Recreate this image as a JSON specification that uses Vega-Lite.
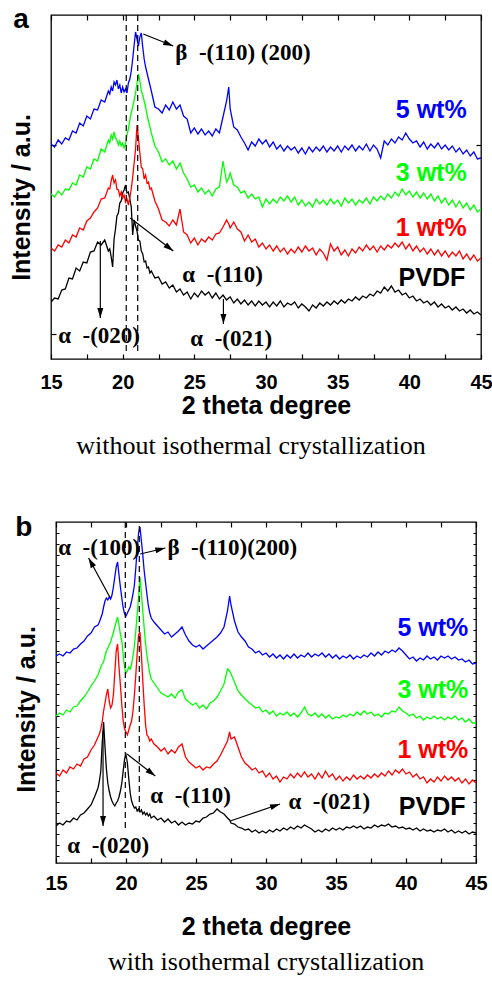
{
"$schema": "https://vega.github.io/schema/vega-lite/v6.json",
"padding": {"left": 8, "top": 5, "right": 0, "bottom": 0},
"background": "white",
"datasets": {
"a": [
{"t":15,"PVDF":57,"w1":111,"w3":165,"w5":215},
{"t":15.25,"PVDF":61,"w1":108,"w3":162,"w5":212},
{"t":15.5,"PVDF":60,"w1":114,"w3":168,"w5":219},
{"t":15.75,"PVDF":69,"w1":112,"w3":164,"w5":215},
{"t":16,"PVDF":70,"w1":119,"w3":170,"w5":221},
{"t":16.25,"PVDF":81,"w1":116,"w3":169,"w5":219},
{"t":16.5,"PVDF":80,"w1":124,"w3":176,"w5":228},
{"t":16.75,"PVDF":91,"w1":122,"w3":174,"w5":226},
{"t":17,"PVDF":88,"w1":131,"w3":184,"w5":236},
{"t":17.25,"PVDF":97,"w1":129,"w3":182,"w5":233},
{"t":17.5,"PVDF":96,"w1":138,"w3":192,"w5":243},
{"t":17.75,"PVDF":107,"w1":141,"w3":190,"w5":240},
{"t":18,"PVDF":108,"w1":147,"w3":200,"w5":250},
{"t":18.25,"PVDF":117,"w1":151,"w3":198,"w5":249},
{"t":18.5,"PVDF":114,"w1":160,"w3":210,"w5":259},
{"t":18.75,"PVDF":119,"w1":161,"w3":207,"w5":257},
{"t":19,"PVDF":108,"w1":171,"w3":219,"w5":268},
{"t":19.1,"PVDF":110,"w1":170,"w3":216,"w5":265},
{"t":19.2,"PVDF":102,"w1":178,"w3":224,"w5":272},
{"t":19.3,"PVDF":92,"w1":184,"w3":220,"w5":268},
{"t":19.4,"PVDF":120,"w1":176,"w3":227,"w5":277},
{"t":19.5,"PVDF":130,"w1":179,"w3":221,"w5":274},
{"t":19.6,"PVDF":143,"w1":170,"w3":219,"w5":279},
{"t":19.7,"PVDF":146,"w1":169,"w3":214,"w5":270},
{"t":19.8,"PVDF":156,"w1":163,"w3":218,"w5":274},
{"t":19.9,"PVDF":158,"w1":167,"w3":213,"w5":266},
{"t":20,"PVDF":166,"w1":161,"w3":216,"w5":272},
{"t":20.1,"PVDF":169,"w1":164,"w3":211,"w5":267},
{"t":20.2,"PVDF":174,"w1":157,"w3":215,"w5":270},
{"t":20.3,"PVDF":166,"w1":160,"w3":224,"w5":266},
{"t":20.4,"PVDF":167,"w1":154,"w3":230,"w5":276},
{"t":20.5,"PVDF":160,"w1":161,"w3":239,"w5":280},
{"t":20.6,"PVDF":152,"w1":170,"w3":246,"w5":288},
{"t":20.7,"PVDF":124,"w1":182,"w3":252,"w5":300},
{"t":20.8,"PVDF":139,"w1":196,"w3":259,"w5":314},
{"t":20.9,"PVDF":133,"w1":210,"w3":266,"w5":327},
{"t":21,"PVDF":128,"w1":234,"w3":276,"w5":320},
{"t":21.1,"PVDF":119,"w1":221,"w3":285,"w5":313},
{"t":21.2,"PVDF":118,"w1":206,"w3":278,"w5":322},
{"t":21.3,"PVDF":108,"w1":192,"w3":268,"w5":326},
{"t":21.4,"PVDF":105,"w1":190,"w3":264,"w5":312},
{"t":21.5,"PVDF":97,"w1":180,"w3":258,"w5":300},
{"t":21.6,"PVDF":98,"w1":184,"w3":252,"w5":292},
{"t":21.7,"PVDF":91,"w1":176,"w3":244,"w5":286},
{"t":21.8,"PVDF":92,"w1":177,"w3":238,"w5":280},
{"t":21.9,"PVDF":86,"w1":170,"w3":232,"w5":274},
{"t":22,"PVDF":88,"w1":171,"w3":226,"w5":268},
{"t":22.25,"PVDF":81,"w1":158,"w3":213,"w5":252},
{"t":22.5,"PVDF":82,"w1":150,"w3":207,"w5":250},
{"t":22.75,"PVDF":75,"w1":139,"w3":197,"w5":246},
{"t":23,"PVDF":77,"w1":137,"w3":200,"w5":254},
{"t":23.25,"PVDF":71,"w1":133,"w3":194,"w5":249},
{"t":23.5,"PVDF":74,"w1":139,"w3":198,"w5":257},
{"t":23.75,"PVDF":67,"w1":134,"w3":190,"w5":250},
{"t":24,"PVDF":70,"w1":150,"w3":196,"w5":254},
{"t":24.25,"PVDF":64,"w1":127,"w3":186,"w5":243},
{"t":24.5,"PVDF":67,"w1":124,"w3":180,"w5":240},
{"t":24.75,"PVDF":60,"w1":116,"w3":172,"w5":226},
{"t":25,"PVDF":66,"w1":121,"w3":174,"w5":231},
{"t":25.25,"PVDF":62,"w1":114,"w3":167,"w5":225},
{"t":25.5,"PVDF":68,"w1":120,"w3":171,"w5":230},
{"t":25.75,"PVDF":64,"w1":117,"w3":165,"w5":224},
{"t":26,"PVDF":67,"w1":122,"w3":169,"w5":228},
{"t":26.25,"PVDF":61,"w1":119,"w3":163,"w5":223},
{"t":26.5,"PVDF":66,"w1":125,"w3":170,"w5":230},
{"t":26.75,"PVDF":60,"w1":126,"w3":172,"w5":226},
{"t":27,"PVDF":64,"w1":132,"w3":198,"w5":242},
{"t":27.25,"PVDF":59,"w1":139,"w3":177,"w5":258},
{"t":27.4,"PVDF":61,"w1":135,"w3":181,"w5":272},
{"t":27.5,"PVDF":62,"w1":131,"w3":186,"w5":250},
{"t":27.75,"PVDF":56,"w1":137,"w3":174,"w5":232},
{"t":28,"PVDF":60,"w1":130,"w3":172,"w5":229},
{"t":28.25,"PVDF":55,"w1":127,"w3":166,"w5":222},
{"t":28.5,"PVDF":59,"w1":118,"w3":168,"w5":216},
{"t":28.75,"PVDF":54,"w1":124,"w3":161,"w5":209},
{"t":29,"PVDF":58,"w1":117,"w3":165,"w5":217},
{"t":29.25,"PVDF":53,"w1":120,"w3":160,"w5":213},
{"t":29.5,"PVDF":58,"w1":112,"w3":162,"w5":220},
{"t":29.75,"PVDF":54,"w1":116,"w3":152,"w5":215},
{"t":30,"PVDF":57,"w1":110,"w3":160,"w5":219},
{"t":30.25,"PVDF":52,"w1":114,"w3":155,"w5":212},
{"t":30.5,"PVDF":57,"w1":108,"w3":160,"w5":217},
{"t":30.75,"PVDF":53,"w1":113,"w3":156,"w5":210},
{"t":31,"PVDF":58,"w1":107,"w3":162,"w5":214},
{"t":31.25,"PVDF":52,"w1":111,"w3":158,"w5":208},
{"t":31.5,"PVDF":56,"w1":105,"w3":163,"w5":213},
{"t":31.75,"PVDF":54,"w1":110,"w3":157,"w5":209},
{"t":32,"PVDF":57,"w1":106,"w3":162,"w5":212},
{"t":32.25,"PVDF":51,"w1":112,"w3":154,"w5":206},
{"t":32.5,"PVDF":55,"w1":107,"w3":159,"w5":211},
{"t":32.75,"PVDF":52,"w1":113,"w3":153,"w5":205},
{"t":33,"PVDF":48,"w1":108,"w3":157,"w5":212},
{"t":33.25,"PVDF":54,"w1":111,"w3":152,"w5":207},
{"t":33.5,"PVDF":51,"w1":104,"w3":160,"w5":212},
{"t":33.75,"PVDF":56,"w1":110,"w3":155,"w5":208},
{"t":34,"PVDF":53,"w1":106,"w3":159,"w5":213},
{"t":34.25,"PVDF":57,"w1":99,"w3":154,"w5":207},
{"t":34.5,"PVDF":54,"w1":115,"w3":160,"w5":212},
{"t":34.75,"PVDF":58,"w1":108,"w3":155,"w5":208},
{"t":35,"PVDF":55,"w1":112,"w3":159,"w5":213},
{"t":35.25,"PVDF":59,"w1":104,"w3":153,"w5":207},
{"t":35.5,"PVDF":56,"w1":109,"w3":161,"w5":213},
{"t":35.75,"PVDF":60,"w1":103,"w3":156,"w5":209},
{"t":36,"PVDF":58,"w1":110,"w3":160,"w5":214},
{"t":36.25,"PVDF":62,"w1":106,"w3":154,"w5":208},
{"t":36.5,"PVDF":59,"w1":112,"w3":159,"w5":213},
{"t":36.75,"PVDF":63,"w1":108,"w3":156,"w5":209},
{"t":37,"PVDF":61,"w1":114,"w3":161,"w5":215},
{"t":37.25,"PVDF":65,"w1":109,"w3":155,"w5":208},
{"t":37.5,"PVDF":63,"w1":113,"w3":162,"w5":214},
{"t":37.75,"PVDF":68,"w1":107,"w3":158,"w5":210},
{"t":38,"PVDF":66,"w1":113,"w3":163,"w5":201},
{"t":38.25,"PVDF":72,"w1":109,"w3":159,"w5":218},
{"t":38.5,"PVDF":68,"w1":114,"w3":165,"w5":214},
{"t":38.75,"PVDF":73,"w1":111,"w3":161,"w5":220},
{"t":39,"PVDF":67,"w1":116,"w3":167,"w5":216},
{"t":39.25,"PVDF":69,"w1":112,"w3":163,"w5":222},
{"t":39.5,"PVDF":64,"w1":117,"w3":170,"w5":219},
{"t":39.75,"PVDF":66,"w1":110,"w3":164,"w5":226},
{"t":40,"PVDF":61,"w1":115,"w3":168,"w5":220},
{"t":40.25,"PVDF":63,"w1":108,"w3":162,"w5":216},
{"t":40.5,"PVDF":58,"w1":113,"w3":167,"w5":218},
{"t":40.75,"PVDF":60,"w1":107,"w3":161,"w5":212},
{"t":41,"PVDF":56,"w1":111,"w3":166,"w5":217},
{"t":41.25,"PVDF":58,"w1":105,"w3":160,"w5":210},
{"t":41.5,"PVDF":54,"w1":110,"w3":165,"w5":215},
{"t":41.75,"PVDF":57,"w1":104,"w3":158,"w5":211},
{"t":42,"PVDF":52,"w1":109,"w3":163,"w5":216},
{"t":42.25,"PVDF":55,"w1":103,"w3":156,"w5":210},
{"t":42.5,"PVDF":51,"w1":108,"w3":161,"w5":214},
{"t":42.75,"PVDF":53,"w1":102,"w3":154,"w5":209},
{"t":43,"PVDF":49,"w1":107,"w3":159,"w5":213},
{"t":43.25,"PVDF":52,"w1":103,"w3":152,"w5":207},
{"t":43.5,"PVDF":48,"w1":108,"w3":158,"w5":211},
{"t":43.75,"PVDF":50,"w1":100,"w3":151,"w5":205},
{"t":44,"PVDF":46,"w1":105,"w3":156,"w5":209},
{"t":44.25,"PVDF":49,"w1":99,"w3":149,"w5":203},
{"t":44.5,"PVDF":45,"w1":104,"w3":154,"w5":207},
{"t":44.75,"PVDF":47,"w1":98,"w3":147,"w5":200},
{"t":45,"PVDF":44,"w1":101,"w3":150,"w5":201}
],
"b": [
{"t":15,"PVDF":37,"w1":90,"w3":147,"w5":207},
{"t":15.25,"PVDF":40,"w1":87,"w3":150,"w5":209},
{"t":15.5,"PVDF":38,"w1":93,"w3":148,"w5":207},
{"t":15.75,"PVDF":42,"w1":90,"w3":153,"w5":211},
{"t":16,"PVDF":41,"w1":96,"w3":151,"w5":210},
{"t":16.25,"PVDF":45,"w1":94,"w3":156,"w5":214},
{"t":16.5,"PVDF":43,"w1":99,"w3":157,"w5":215},
{"t":16.75,"PVDF":48,"w1":97,"w3":162,"w5":219},
{"t":17,"PVDF":50,"w1":104,"w3":166,"w5":222},
{"t":17.25,"PVDF":54,"w1":106,"w3":171,"w5":227},
{"t":17.5,"PVDF":58,"w1":113,"w3":177,"w5":230},
{"t":17.75,"PVDF":66,"w1":118,"w3":182,"w5":236},
{"t":18,"PVDF":75,"w1":126,"w3":188,"w5":238},
{"t":18.1,"PVDF":82,"w1":129,"w3":192,"w5":241},
{"t":18.2,"PVDF":92,"w1":134,"w3":196,"w5":245},
{"t":18.3,"PVDF":120,"w1":141,"w3":199,"w5":249},
{"t":18.4,"PVDF":141,"w1":152,"w3":201,"w5":256},
{"t":18.5,"PVDF":116,"w1":160,"w3":207,"w5":262},
{"t":18.6,"PVDF":94,"w1":168,"w3":212,"w5":265},
{"t":18.7,"PVDF":80,"w1":174,"w3":215,"w5":263},
{"t":18.8,"PVDF":72,"w1":162,"w3":218,"w5":266},
{"t":18.9,"PVDF":66,"w1":155,"w3":221,"w5":264},
{"t":19,"PVDF":62,"w1":158,"w3":226,"w5":268},
{"t":19.1,"PVDF":59,"w1":168,"w3":230,"w5":276},
{"t":19.2,"PVDF":57,"w1":190,"w3":236,"w5":286},
{"t":19.3,"PVDF":60,"w1":212,"w3":241,"w5":296},
{"t":19.4,"PVDF":62,"w1":219,"w3":246,"w5":301},
{"t":19.5,"PVDF":66,"w1":196,"w3":238,"w5":288},
{"t":19.6,"PVDF":72,"w1":178,"w3":229,"w5":276},
{"t":19.7,"PVDF":80,"w1":158,"w3":222,"w5":265},
{"t":19.8,"PVDF":92,"w1":142,"w3":208,"w5":255},
{"t":19.9,"PVDF":104,"w1":134,"w3":195,"w5":249},
{"t":20,"PVDF":108,"w1":131,"w3":190,"w5":247},
{"t":20.1,"PVDF":100,"w1":128,"w3":192,"w5":250},
{"t":20.2,"PVDF":84,"w1":133,"w3":196,"w5":253},
{"t":20.3,"PVDF":70,"w1":138,"w3":194,"w5":256},
{"t":20.4,"PVDF":62,"w1":142,"w3":199,"w5":262},
{"t":20.5,"PVDF":58,"w1":152,"w3":207,"w5":269},
{"t":20.6,"PVDF":55,"w1":168,"w3":217,"w5":278},
{"t":20.7,"PVDF":56,"w1":188,"w3":232,"w5":295},
{"t":20.8,"PVDF":52,"w1":210,"w3":249,"w5":314},
{"t":20.9,"PVDF":54,"w1":228,"w3":266,"w5":330},
{"t":21,"PVDF":51,"w1":231,"w3":286,"w5":336},
{"t":21.1,"PVDF":53,"w1":208,"w3":270,"w5":322},
{"t":21.2,"PVDF":49,"w1":182,"w3":252,"w5":308},
{"t":21.3,"PVDF":51,"w1":158,"w3":235,"w5":292},
{"t":21.4,"PVDF":48,"w1":138,"w3":219,"w5":280},
{"t":21.5,"PVDF":50,"w1":128,"w3":207,"w5":268},
{"t":21.6,"PVDF":47,"w1":126,"w3":198,"w5":257},
{"t":21.7,"PVDF":49,"w1":122,"w3":190,"w5":250},
{"t":21.8,"PVDF":45,"w1":124,"w3":184,"w5":245},
{"t":22,"PVDF":47,"w1":119,"w3":180,"w5":241},
{"t":22.25,"PVDF":43,"w1":116,"w3":175,"w5":237},
{"t":22.5,"PVDF":45,"w1":112,"w3":170,"w5":233},
{"t":22.75,"PVDF":41,"w1":115,"w3":168,"w5":229},
{"t":23,"PVDF":44,"w1":109,"w3":166,"w5":231},
{"t":23.25,"PVDF":40,"w1":113,"w3":169,"w5":226},
{"t":23.5,"PVDF":42,"w1":110,"w3":165,"w5":229},
{"t":23.75,"PVDF":38,"w1":116,"w3":171,"w5":232},
{"t":24,"PVDF":41,"w1":119,"w3":173,"w5":236},
{"t":24.25,"PVDF":38,"w1":106,"w3":164,"w5":228},
{"t":24.5,"PVDF":40,"w1":101,"w3":161,"w5":222},
{"t":24.75,"PVDF":39,"w1":98,"w3":158,"w5":218},
{"t":25,"PVDF":42,"w1":95,"w3":160,"w5":216},
{"t":25.25,"PVDF":41,"w1":97,"w3":155,"w5":218},
{"t":25.5,"PVDF":45,"w1":93,"w3":158,"w5":214},
{"t":25.75,"PVDF":46,"w1":96,"w3":154,"w5":217},
{"t":26,"PVDF":49,"w1":95,"w3":160,"w5":220},
{"t":26.25,"PVDF":50,"w1":99,"w3":162,"w5":223},
{"t":26.5,"PVDF":54,"w1":102,"w3":166,"w5":226},
{"t":26.75,"PVDF":51,"w1":108,"w3":172,"w5":230},
{"t":27,"PVDF":49,"w1":115,"w3":179,"w5":236},
{"t":27.25,"PVDF":45,"w1":122,"w3":194,"w5":252},
{"t":27.4,"PVDF":43,"w1":131,"w3":192,"w5":267},
{"t":27.5,"PVDF":40,"w1":124,"w3":189,"w5":258},
{"t":27.75,"PVDF":39,"w1":126,"w3":181,"w5":242},
{"t":28,"PVDF":36,"w1":116,"w3":172,"w5":231},
{"t":28.25,"PVDF":35,"w1":106,"w3":168,"w5":226},
{"t":28.5,"PVDF":33,"w1":100,"w3":164,"w5":222},
{"t":28.75,"PVDF":34,"w1":97,"w3":161,"w5":216},
{"t":29,"PVDF":31,"w1":93,"w3":158,"w5":214},
{"t":29.25,"PVDF":33,"w1":95,"w3":155,"w5":210},
{"t":29.5,"PVDF":30,"w1":90,"w3":156,"w5":212},
{"t":29.75,"PVDF":32,"w1":92,"w3":151,"w5":208},
{"t":30,"PVDF":30,"w1":86,"w3":153,"w5":210},
{"t":30.25,"PVDF":33,"w1":90,"w3":149,"w5":206},
{"t":30.5,"PVDF":31,"w1":84,"w3":152,"w5":209},
{"t":30.75,"PVDF":34,"w1":87,"w3":147,"w5":205},
{"t":31,"PVDF":32,"w1":81,"w3":150,"w5":208},
{"t":31.25,"PVDF":35,"w1":86,"w3":148,"w5":204},
{"t":31.5,"PVDF":33,"w1":84,"w3":151,"w5":208},
{"t":31.75,"PVDF":36,"w1":89,"w3":147,"w5":205},
{"t":32,"PVDF":34,"w1":85,"w3":150,"w5":209},
{"t":32.25,"PVDF":37,"w1":90,"w3":146,"w5":205},
{"t":32.5,"PVDF":35,"w1":86,"w3":150,"w5":208},
{"t":32.75,"PVDF":38,"w1":91,"w3":156,"w5":206},
{"t":33,"PVDF":36,"w1":86,"w3":149,"w5":210},
{"t":33.25,"PVDF":34,"w1":89,"w3":147,"w5":206},
{"t":33.5,"PVDF":31,"w1":84,"w3":150,"w5":209},
{"t":33.75,"PVDF":33,"w1":90,"w3":146,"w5":207},
{"t":34,"PVDF":31,"w1":85,"w3":149,"w5":210},
{"t":34.25,"PVDF":34,"w1":92,"w3":145,"w5":206},
{"t":34.5,"PVDF":32,"w1":86,"w3":148,"w5":209},
{"t":34.75,"PVDF":35,"w1":89,"w3":144,"w5":205},
{"t":35,"PVDF":33,"w1":83,"w3":146,"w5":208},
{"t":35.25,"PVDF":35,"w1":87,"w3":145,"w5":204},
{"t":35.5,"PVDF":33,"w1":82,"w3":148,"w5":207},
{"t":35.75,"PVDF":36,"w1":86,"w3":146,"w5":205},
{"t":36,"PVDF":35,"w1":83,"w3":149,"w5":208},
{"t":36.25,"PVDF":37,"w1":88,"w3":147,"w5":204},
{"t":36.5,"PVDF":35,"w1":84,"w3":151,"w5":207},
{"t":36.75,"PVDF":37,"w1":87,"w3":148,"w5":205},
{"t":37,"PVDF":34,"w1":84,"w3":152,"w5":208},
{"t":37.25,"PVDF":36,"w1":88,"w3":149,"w5":206},
{"t":37.5,"PVDF":35,"w1":85,"w3":151,"w5":210},
{"t":37.75,"PVDF":38,"w1":89,"w3":147,"w5":207},
{"t":38,"PVDF":36,"w1":86,"w3":149,"w5":211},
{"t":38.25,"PVDF":38,"w1":90,"w3":146,"w5":208},
{"t":38.5,"PVDF":37,"w1":87,"w3":150,"w5":212},
{"t":38.75,"PVDF":39,"w1":92,"w3":149,"w5":210},
{"t":39,"PVDF":36,"w1":88,"w3":152,"w5":213},
{"t":39.25,"PVDF":37,"w1":93,"w3":151,"w5":211},
{"t":39.5,"PVDF":35,"w1":90,"w3":156,"w5":215},
{"t":39.75,"PVDF":36,"w1":94,"w3":152,"w5":212},
{"t":40,"PVDF":34,"w1":89,"w3":150,"w5":208},
{"t":40.25,"PVDF":35,"w1":91,"w3":147,"w5":204},
{"t":40.5,"PVDF":33,"w1":86,"w3":149,"w5":206},
{"t":40.75,"PVDF":35,"w1":89,"w3":145,"w5":202},
{"t":41,"PVDF":32,"w1":84,"w3":147,"w5":205},
{"t":41.25,"PVDF":34,"w1":86,"w3":143,"w5":203},
{"t":41.5,"PVDF":32,"w1":80,"w3":146,"w5":207},
{"t":41.75,"PVDF":33,"w1":84,"w3":144,"w5":204},
{"t":42,"PVDF":31,"w1":81,"w3":147,"w5":206},
{"t":42.25,"PVDF":33,"w1":86,"w3":144,"w5":203},
{"t":42.5,"PVDF":32,"w1":82,"w3":146,"w5":207},
{"t":42.75,"PVDF":34,"w1":87,"w3":143,"w5":205},
{"t":43,"PVDF":31,"w1":83,"w3":146,"w5":207},
{"t":43.25,"PVDF":33,"w1":86,"w3":144,"w5":204},
{"t":43.5,"PVDF":30,"w1":82,"w3":147,"w5":206},
{"t":43.75,"PVDF":32,"w1":85,"w3":143,"w5":203},
{"t":44,"PVDF":30,"w1":80,"w3":145,"w5":204},
{"t":44.25,"PVDF":32,"w1":84,"w3":141,"w5":201},
{"t":44.5,"PVDF":29,"w1":79,"w3":144,"w5":203},
{"t":44.75,"PVDF":31,"w1":83,"w3":140,"w5":199},
{"t":45,"PVDF":30,"w1":80,"w3":140,"w5":200}
]
},
"vconcat": [
{
"width": 430, "height": 344,
"title": {"text": "without isothermal crystallization", "orient": "bottom", "font": "Liberation Serif", "fontSize": 26, "fontWeight": "normal", "color": "black", "offset": 15, "dx": -15},
"layer": [
{
"data": {"name": "a"},
"transform": [{"fold": ["PVDF", "w1", "w3", "w5"], "as": ["series", "v"]}],
"mark": {"type": "line", "strokeWidth": 1.3, "clip": true},
"encoding": {
"x": {"field": "t", "type": "quantitative", "scale": {"domain": [15, 45], "nice": false, "zero": false},
"axis": {"orient": "bottom", "values": [15, 17.5, 20, 22.5, 25, 27.5, 30, 32.5, 35, 37.5, 40, 42.5, 45], "labelExpr": "datum.value % 5 === 0 ? datum.label : ''", "tickSize": -5, "tickColor": "black", "tickWidth": 1.2, "domain": false, "grid": false, "labelFont": "Liberation Sans", "labelFontWeight": "bold", "labelFontSize": 20, "labelColor": "black", "labelPadding": 18, "labelFlush": false, "labelOverlap": false, "title": "2 theta degree", "titleFont": "Liberation Sans", "titleFontSize": 25, "titleFontWeight": "bold", "titleColor": "black", "titlePadding": 1}},
"y": {"field": "v", "type": "quantitative", "scale": {"domain": [0, 344], "nice": false, "zero": false},
"axis": {"orient": "left", "values": [25, 214], "labels": false, "tickSize": -5, "tickColor": "black", "tickWidth": 1.2, "domain": false, "grid": false, "title": "Intensity / a.u.", "titleFont": "Liberation Sans", "titleFontSize": 25, "titleFontWeight": "bold", "titleColor": "black", "titlePadding": 16, "titleY": 182}},
"color": {"field": "series", "type": "nominal", "scale": {"domain": ["PVDF", "w1", "w3", "w5"], "range": ["#000000", "#ff0000", "#00ff00", "#0000ff"]}, "legend": null}
}
},
{
"data": {"values": [{"t": 20.25, "v1": 344, "v2": 8}, {"t": 21.05, "v1": 344, "v2": 8}]},
"mark": {"type": "rule", "color": "black", "strokeWidth": 1.2, "strokeDash": [6, 4]},
"encoding": {
"x": {"field": "t", "type": "quantitative", "axis": {"orient": "top", "values": [15, 17.5, 20, 22.5, 25, 27.5, 30, 32.5, 35, 37.5, 40, 42.5, 45], "labels": false, "tickSize": -5, "tickColor": "black", "tickWidth": 1.2, "domain": false, "grid": false, "title": null}},
"y": {"field": "v1", "type": "quantitative", "axis": {"orient": "right", "values": [25, 214], "labels": false, "tickSize": -5, "tickColor": "black", "tickWidth": 1.2, "domain": false, "grid": false, "title": null}},
"y2": {"field": "v2"}
}
},
{
"data": {"values": [
{"t1": 21.44, "v1": 325, "t2": 23.53, "v2": 313, "ang": 111.8},
{"t1": 20.53, "v1": 141, "t2": 23.53, "v2": 108, "ang": 127.5},
{"t1": 18.44, "v1": 118, "t2": 18.44, "v2": 41, "ang": 180},
{"t1": 27.03, "v1": 60, "t2": 27.03, "v2": 35, "ang": 180}]},
"layer": [
{"mark": {"type": "rule", "color": "black", "strokeWidth": 1.2},
"encoding": {"x": {"field": "t1", "type": "quantitative", "axis": null}, "y": {"field": "v1", "type": "quantitative", "axis": null}, "x2": {"field": "t2"}, "y2": {"field": "v2"}}},
{"mark": {"type": "point", "shape": "M0,0L-0.6,2L0.6,2Z", "filled": true, "color": "black", "opacity": 1, "size": 100, "strokeWidth": 0},
"encoding": {"x": {"field": "t2", "type": "quantitative", "axis": null}, "y": {"field": "v2", "type": "quantitative", "axis": null}, "angle": {"field": "ang", "type": "quantitative", "scale": null}}}
]
},
{
"data": {"values": [
{"t": 44.0, "v": 249, "label": "5 wt%", "series": "w5"},
{"t": 44.0, "v": 186, "label": "3 wt%", "series": "w3"},
{"t": 44.0, "v": 131, "label": "1 wt%", "series": "w1"},
{"t": 43.9, "v": 81, "label": "PVDF", "series": "PVDF"}]},
"mark": {"type": "text", "align": "right", "baseline": "middle", "font": "Liberation Sans", "fontWeight": "bold", "fontSize": 25},
"encoding": {"x": {"field": "t", "type": "quantitative", "axis": null}, "y": {"field": "v", "type": "quantitative", "axis": null}, "text": {"field": "label"}, "color": {"field": "series", "type": "nominal", "legend": null}}
},
{
"data": {"values": [
{"t": 23.67, "v": 306, "label": "β\u2002-(110) (200)"},
{"t": 24.16, "v": 84, "label": "α\u2002-(110)"},
{"t": 15.5, "v": 23, "label": "α\u2002-(020)"},
{"t": 24.72, "v": 20, "label": "α\u2002-(021)"}]},
"mark": {"type": "text", "align": "left", "baseline": "middle", "font": "Liberation Serif", "fontWeight": "bold", "fontSize": 23, "color": "black"},
"encoding": {"x": {"field": "t", "type": "quantitative", "axis": null}, "y": {"field": "v", "type": "quantitative", "axis": null}, "text": {"field": "label"}}
},
{
"data": {"values": [{"t": 12.37, "v": 331, "label": "a"}]},
"mark": {"type": "text", "align": "left", "baseline": "alphabetic", "font": "Liberation Sans", "fontWeight": "bold", "fontSize": 28, "color": "black"},
"encoding": {"x": {"field": "t", "type": "quantitative", "axis": null}, "y": {"field": "v", "type": "quantitative", "axis": null}, "text": {"field": "label"}}
}
],
"resolve": {"axis": {"x": "independent", "y": "independent"}}
},
{
"width": 420, "height": 341,
"title": {"text": "with isothermal crystallization", "orient": "bottom", "font": "Liberation Serif", "fontSize": 26, "fontWeight": "normal", "color": "black", "offset": 10},
"layer": [
{
"data": {"name": "b"},
"transform": [{"fold": ["PVDF", "w1", "w3", "w5"], "as": ["series", "v"]}],
"mark": {"type": "line", "strokeWidth": 1.3, "clip": true},
"encoding": {
"x": {"field": "t", "type": "quantitative", "scale": {"domain": [15, 45], "nice": false, "zero": false},
"axis": {"orient": "bottom", "values": [15, 17.5, 20, 22.5, 25, 27.5, 30, 32.5, 35, 37.5, 40, 42.5, 45], "labelExpr": "datum.value % 5 === 0 ? datum.label : ''", "tickSize": -5, "tickColor": "black", "tickWidth": 1.2, "domain": false, "grid": false, "labelFont": "Liberation Sans", "labelFontWeight": "bold", "labelFontSize": 20, "labelColor": "black", "labelPadding": 15, "labelFlush": false, "labelOverlap": false, "title": "2 theta degree", "titleFont": "Liberation Sans", "titleFontSize": 25, "titleFontWeight": "bold", "titleColor": "black", "titlePadding": 21}},
"y": {"field": "v", "type": "quantitative", "scale": {"domain": [0, 341], "nice": false, "zero": false},
"axis": {"orient": "left", "values": [7.5, 18.25, 29, 39.75, 50.5, 61.25, 72, 82.75, 93.5, 104.25, 115, 125.75, 136.5, 147.25, 158, 168.75, 179.5, 190.25, 201, 211.75, 222.5, 233.25, 244, 254.75, 265.5, 276.25, 287, 297.75, 308.5, 319.25, 330], "labels": false, "tickSize": -3, "tickColor": "black", "tickWidth": 1, "domain": false, "grid": false, "title": "Intensity / a.u.", "titleFont": "Liberation Sans", "titleFontSize": 25, "titleFontWeight": "bold", "titleColor": "black", "titlePadding": 16, "titleY": 187}},
"color": {"field": "series", "type": "nominal", "scale": {"domain": ["PVDF", "w1", "w3", "w5"], "range": ["#000000", "#ff0000", "#00ff00", "#0000ff"]}, "legend": null}
}
},
{
"data": {"values": [{"t": 19.95, "v1": 341, "v2": 32}, {"t": 20.95, "v1": 337, "v2": 47}]},
"mark": {"type": "rule", "color": "black", "strokeWidth": 1.2, "strokeDash": [6, 4]},
"encoding": {
"x": {"field": "t", "type": "quantitative", "axis": {"orient": "top", "values": [15, 17.5, 20, 22.5, 25, 27.5, 30, 32.5, 35, 37.5, 40, 42.5, 45], "labels": false, "tickSize": -5, "tickColor": "black", "tickWidth": 1.2, "domain": false, "grid": false, "title": null}},
"y": {"field": "v1", "type": "quantitative", "axis": {"orient": "right", "values": [7.5, 18.25, 29, 39.75, 50.5, 61.25, 72, 82.75, 93.5, 104.25, 115, 125.75, 136.5, 147.25, 158, 168.75, 179.5, 190.25, 201, 211.75, 222.5, 233.25, 244, 254.75, 265.5, 276.25, 287, 297.75, 308.5, 319.25, 330], "labels": false, "tickSize": -3, "tickColor": "black", "tickWidth": 1, "domain": false, "grid": false, "title": null}},
"y2": {"field": "v2"}
}
},
{
"data": {"values": [
{"t1": 18.88, "v1": 265, "t2": 17.33, "v2": 305, "ang": 331.5},
{"t1": 21.02, "v1": 309, "t2": 22.81, "v2": 315, "ang": 76.5},
{"t1": 20.07, "v1": 109, "t2": 22.09, "v2": 87, "ang": 127.9},
{"t1": 18.36, "v1": 132, "t2": 18.36, "v2": 37, "ang": 180},
{"t1": 27.45, "v1": 42, "t2": 31.0, "v2": 59, "ang": 71.2}]},
"layer": [
{"mark": {"type": "rule", "color": "black", "strokeWidth": 1.2},
"encoding": {"x": {"field": "t1", "type": "quantitative", "axis": null}, "y": {"field": "v1", "type": "quantitative", "axis": null}, "x2": {"field": "t2"}, "y2": {"field": "v2"}}},
{"mark": {"type": "point", "shape": "M0,0L-0.6,2L0.6,2Z", "filled": true, "color": "black", "opacity": 1, "size": 100, "strokeWidth": 0},
"encoding": {"x": {"field": "t2", "type": "quantitative", "axis": null}, "y": {"field": "v2", "type": "quantitative", "axis": null}, "angle": {"field": "ang", "type": "quantitative", "scale": null}}}
]
},
{
"data": {"values": [
{"t": 44.45, "v": 235, "label": "5 wt%", "series": "w5"},
{"t": 44.45, "v": 173, "label": "3 wt%", "series": "w3"},
{"t": 44.45, "v": 113, "label": "1 wt%", "series": "w1"},
{"t": 44.25, "v": 56, "label": "PVDF", "series": "PVDF"}]},
"mark": {"type": "text", "align": "right", "baseline": "middle", "font": "Liberation Sans", "fontWeight": "bold", "fontSize": 25},
"encoding": {"x": {"field": "t", "type": "quantitative", "axis": null}, "y": {"field": "v", "type": "quantitative", "axis": null}, "text": {"field": "label"}, "color": {"field": "series", "type": "nominal", "legend": null}}
},
{
"data": {"values": [
{"t": 15.16, "v": 315, "label": "α\u2002-(100)"},
{"t": 22.96, "v": 315, "label": "β\u2002-(110)(200)"},
{"t": 21.74, "v": 67, "label": "α\u2002-(110)"},
{"t": 15.81, "v": 17, "label": "α\u2002-(020)"},
{"t": 31.6, "v": 61, "label": "α\u2002-(021)"}]},
"mark": {"type": "text", "align": "left", "baseline": "middle", "font": "Liberation Serif", "fontWeight": "bold", "fontSize": 23, "color": "black"},
"encoding": {"x": {"field": "t", "type": "quantitative", "axis": null}, "y": {"field": "v", "type": "quantitative", "axis": null}, "text": {"field": "label"}}
},
{
"data": {"values": [{"t": 12.09, "v": 327, "label": "b"}]},
"mark": {"type": "text", "align": "left", "baseline": "alphabetic", "font": "Liberation Sans", "fontWeight": "bold", "fontSize": 28, "color": "black"},
"encoding": {"x": {"field": "t", "type": "quantitative", "axis": null}, "y": {"field": "v", "type": "quantitative", "axis": null}, "text": {"field": "label"}}
}
],
"resolve": {"axis": {"x": "independent", "y": "independent"}}
}
],
"spacing": 163,
"bounds": "flush",
"center": true,
"config": {"view": {"stroke": "black", "strokeWidth": 1.3}}
}
